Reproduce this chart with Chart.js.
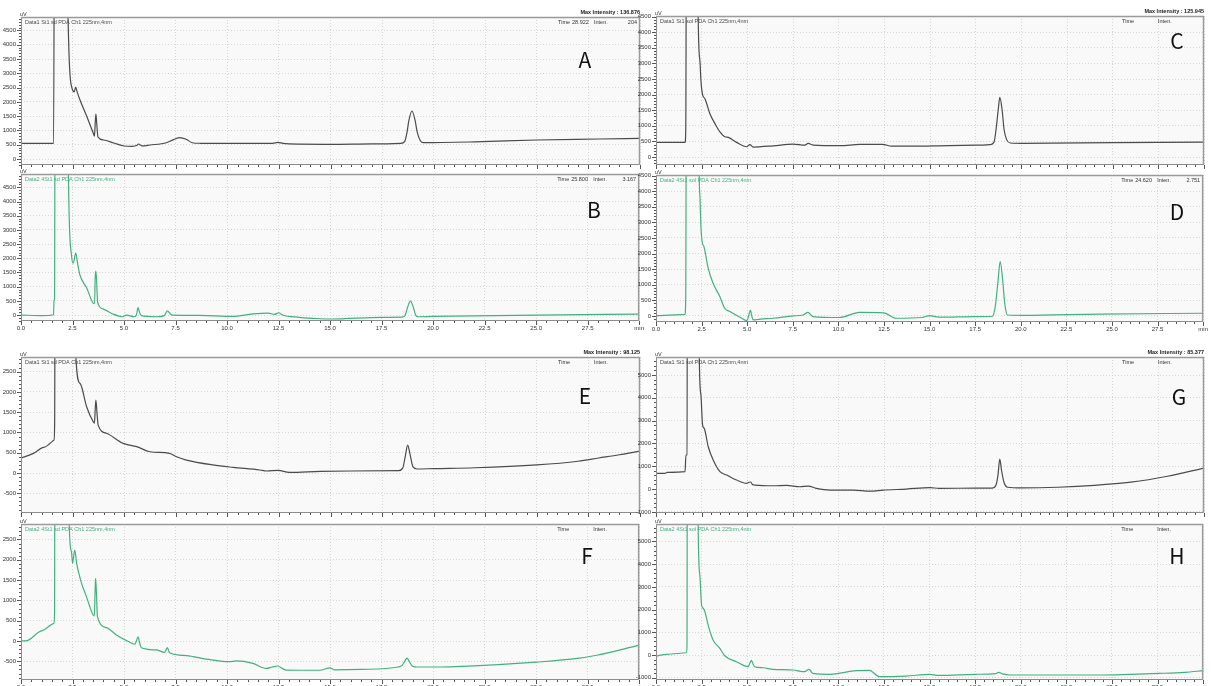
<!DOCTYPE html>
<html><head><meta charset="utf-8">
<script src="https://cdn.jsdelivr.net/npm/chart.js@4"></script>
<style>
html,body{margin:0;padding:0;background:#fff;width:1211px;height:686px;overflow:hidden;position:relative}
canvas{position:absolute}
.lbl{position:absolute;font-family:"Noto Sans CJK SC","Noto Sans",sans-serif;font-size:21px;color:#111;line-height:1;transform:translate(-50%,-50%)}
</style></head><body>
<script>
// ---- data: [time (min), intensity (uV)] ----
const traceA = [[0,545],[1.0,550],[1.58,550],[1.63,12000],[2.2,12000],[2.28,4970],[2.5,2415],[2.58,2350],[2.65,2520],[2.72,2350],[2.86,2065],[3.2,1470],[3.5,910],[3.56,800],[3.6,1300],[3.63,1575],[3.67,1250],[3.73,770],[4.0,665],[4.5,560],[5.0,455],[5.4,445],[5.6,470],[5.7,525],[5.85,460],[6.25,490],[7.05,570],[7.4,680],[7.7,745],[8.0,690],[8.3,570],[8.7,550],[10.0,545],[12.2,550],[12.45,580],[12.7,545],[13.5,520],[15.0,515],[17.0,530],[18.4,550],[18.6,620],[18.7,900],[18.8,1350],[18.95,1680],[19.1,1350],[19.2,950],[19.35,650],[19.5,570],[22,600],[25,665],[28,700],[30,725]];
const traceB = [[0,0],[1.0,-20],[1.58,10],[1.6,500],[1.63,600],[1.66,12000],[2.25,12000],[2.3,4970],[2.45,2110],[2.53,1830],[2.66,2180],[2.75,1800],[2.86,1410],[3.19,950],[3.5,420],[3.57,400],[3.6,1300],[3.63,1550],[3.67,1200],[3.72,450],[4.0,210],[4.46,35],[4.95,-60],[5.1,0],[5.5,-60],[5.6,0],[5.68,260],[5.76,80],[5.84,-20],[6.57,-60],[6.95,-20],[7.1,150],[7.25,40],[7.37,0],[8.67,-10],[10.27,-50],[11.25,40],[12.0,70],[12.3,20],[12.5,80],[12.7,0],[13.5,-80],[14.5,-130],[15.06,-140],[17.5,-80],[18.5,-75],[18.65,0],[18.75,250],[18.9,490],[19.05,250],[19.15,0],[19.25,-60],[20,-50],[25,0],[30,30]];
const traceC = [[0,468],[1.59,470],[1.63,900],[1.68,12000],[2.25,12000],[2.31,4520],[2.41,3035],[2.46,2450],[2.55,2000],[2.68,1870],[2.95,1390],[3.23,1070],[3.5,805],[3.77,650],[3.96,630],[4.41,470],[4.96,330],[5.14,400],[5.32,320],[6.42,360],[7.5,415],[8.15,380],[8.33,435],[8.6,385],[10.07,365],[11.16,405],[12.4,405],[12.9,350],[14.6,350],[15.5,360],[17.5,380],[18.3,400],[18.5,470],[18.62,900],[18.75,1600],[18.82,1910],[18.95,1500],[19.05,900],[19.2,550],[19.4,450],[20,440],[25,460],[30,480]];
const traceD = [[0,10],[1.59,50],[1.63,600],[1.68,12000],[2.3,12000],[2.37,4520],[2.41,3820],[2.46,2915],[2.53,2380],[2.63,2220],[2.86,1530],[3.13,1045],[3.5,620],[3.77,245],[4.05,140],[4.6,-40],[4.99,-150],[5.1,50],[5.18,190],[5.25,0],[5.33,-130],[5.73,-100],[6.42,-75],[7.5,0],[8.06,30],[8.33,115],[8.6,-20],[10.07,-50],[11.16,115],[12.5,100],[13.15,-75],[14.6,-50],[15.0,10],[15.5,-40],[17.5,-20],[18.45,-10],[18.6,300],[18.75,1100],[18.87,1740],[19.0,1200],[19.12,400],[19.27,30],[20.1,20],[24.3,60],[30,85]];
const traceE = [[0,370],[0.6,485],[1.1,633],[1.6,815],[1.63,1200],[1.68,12000],[2.6,12000],[2.66,2870],[2.86,2210],[3.18,1635],[3.5,1265],[3.56,1230],[3.6,1600],[3.63,1800],[3.68,1500],[3.74,1180],[4.15,980],[4.95,730],[5.6,650],[6.25,525],[7.2,485],[7.54,400],[8.02,320],[9.3,200],[10.28,140],[11.57,75],[11.9,50],[12.46,65],[13.0,15],[14.5,40],[16,50],[18.3,60],[18.5,120],[18.62,400],[18.74,690],[18.86,450],[19.0,150],[19.2,100],[20,110],[22,130],[25,200],[27,290],[28,370],[29,450],[30,540]];
const traceF = [[0,0],[0.3,10],[1.0,250],[1.6,435],[1.63,700],[1.66,12000],[2.28,12000],[2.34,2880],[2.45,2200],[2.5,1910],[2.61,2240],[2.7,1910],[2.94,1420],[3.15,1130],[3.34,845],[3.5,640],[3.56,620],[3.6,1300],[3.62,1545],[3.66,1200],[3.71,600],[4.15,330],[4.63,150],[5.28,-30],[5.52,-80],[5.6,0],[5.68,105],[5.76,-50],[5.84,-165],[6.57,-220],[6.97,-280],[7.1,-165],[7.21,-290],[8.02,-360],[9.0,-445],[10.12,-510],[10.44,-490],[11.25,-550],[11.9,-675],[12.2,-640],[12.46,-615],[12.7,-680],[12.87,-715],[14.5,-720],[15.0,-660],[15.2,-710],[16.5,-700],[18.3,-640],[18.5,-600],[18.62,-500],[18.74,-420],[18.86,-520],[19.0,-620],[19.2,-640],[20,-640],[22,-610],[25,-520],[27,-430],[28,-345],[29,-230],[30,-100]];
const traceG = [[0,690],[0.5,690],[0.6,730],[1.59,760],[1.64,1490],[1.7,1500],[1.73,20000],[2.3,20000],[2.37,5790],[2.46,4120],[2.55,2800],[2.64,2660],[2.86,1855],[3.13,1270],[3.5,760],[3.87,615],[4.41,395],[4.96,250],[5.1,300],[5.18,310],[5.28,200],[5.42,175],[6.42,145],[7.15,160],[7.88,100],[8.33,130],[8.78,30],[9.52,-45],[10.8,-45],[11.7,-90],[12.44,-45],[13.7,0],[15.0,60],[15.5,30],[17.5,40],[18.4,40],[18.6,150],[18.72,600],[18.82,1315],[18.92,800],[19.05,300],[19.25,80],[20,50],[22,80],[24,160],[26,300],[28,560],[30,920]];
const traceH = [[0,-45],[0.58,30],[1.68,100],[1.7,500],[1.73,20000],[2.25,20000],[2.31,5770],[2.41,3450],[2.5,2200],[2.59,2060],[2.68,1910],[2.86,1320],[3.13,660],[3.5,295],[3.77,-30],[4.41,-295],[5.05,-515],[5.15,-350],[5.23,-235],[5.32,-400],[5.42,-515],[5.87,-560],[6.42,-630],[7.5,-660],[8.15,-735],[8.39,-630],[8.6,-810],[9.52,-850],[10.98,-690],[11.7,-675],[12.25,-955],[13.7,-925],[15.0,-850],[15.5,-900],[17.5,-850],[18.6,-820],[18.8,-765],[19.0,-830],[19.4,-880],[22,-880],[24.3,-880],[26,-850],[27.6,-810],[29,-760],[30,-690]];

const xTickValues = [0,2.5,5,7.5,10,12.5,15,17.5,20,22.5,25,27.5,30];
const xTickLabels = ['0.0','2.5','5.0','7.5','10.0','12.5','15.0','17.5','20.0','22.5','25.0','27.5','min'];
const yTicksABCD = [0,500,1000,1500,2000,2500,3000,3500,4000,4500];
const yTicksEF = [-500,0,500,1000,1500,2000,2500];
const yTicksGH = [-1000,0,1000,2000,3000,4000,5000];
const panelLetters = ['A','B','C','D','E','F','G','H'];

const BLACK = '#4b4b4b', GREEN = '#43b07f';
const titleBlack = 'Data1 St1 sd PDA Ch1 225nm,4nm', titleGreen = 'Data2 4St1 sd PDA Ch1 225nm,4nm';
const titleBlack2 = 'Data1 St1 sol PDA Ch1 225nm,4nm', titleGreen2 = 'Data2 4St1 sol PDA Ch1 225nm,4nm';

const panels = [
 {trace:traceA,color:BLACK,L:21,T:17,R:640,B:165,yMin:-210,yMax:4970,yTicks:yTicksABCD,minor:100,xLabels:false,title:titleBlack,info:['28.922','204'],maxInt:'Max Intensity : 136.876',letter:[585,59]},
 {trace:traceB,color:GREEN,L:21,T:174,R:640,B:321,yMin:-210,yMax:4970,yTicks:yTicksABCD,minor:100,xLabels:true,title:titleGreen,info:['25.800','3.167'],maxInt:'',letter:[594,209]},
 {trace:traceC,color:BLACK,L:656,T:16,R:1204,B:165,yMin:-255,yMax:4520,yTicks:yTicksABCD,minor:100,xLabels:false,title:titleBlack2,info:['',''],maxInt:'Max Intensity : 125.945',letter:[1177,40]},
 {trace:traceD,color:GREEN,L:656,T:175,R:1204,B:322,yMin:-195,yMax:4520,yTicks:yTicksABCD,minor:100,xLabels:true,title:titleGreen2,info:['24.620','2.751'],maxInt:'',letter:[1177,211]},
 {trace:traceE,color:BLACK,L:21,T:357,R:640,B:513,yMin:-985,yMax:2860,yTicks:yTicksEF,minor:100,xLabels:false,title:titleBlack,info:['',''],maxInt:'Max Intensity : 98.125',letter:[585,395]},
 {trace:traceF,color:GREEN,L:21,T:524,R:640,B:680,yMin:-960,yMax:2880,yTicks:yTicksEF,minor:100,xLabels:true,title:titleGreen,info:['',''],maxInt:'',letter:[587,555]},
 {trace:traceG,color:BLACK,L:656,T:357,R:1204,B:513,yMin:-1050,yMax:5790,yTicks:yTicksGH,minor:200,xLabels:false,title:titleBlack2,info:['',''],maxInt:'Max Intensity : 85.377',letter:[1179,396]},
 {trace:traceH,color:GREEN,L:656,T:524,R:1204,B:680,yMin:-1100,yMax:5770,yTicks:yTicksGH,minor:200,xLabels:true,title:titleGreen2,info:['',''],maxInt:'',letter:[1177,555]}
];

const decor = {
  id:'decor',
  beforeDraw(chart, args, o){
    const {ctx, chartArea:a} = chart;
    ctx.save(); ctx.fillStyle='#f9f9f9';
    ctx.fillRect(a.left,a.top,a.right-a.left,a.bottom-a.top); ctx.restore();
  },
  afterDraw(chart, args, o){
    const {ctx, chartArea:a, scales:{x,y}} = chart;
    ctx.save();
    ctx.strokeStyle='#8c8c8c'; ctx.lineWidth=1;
    ctx.strokeRect(Math.round(a.left)+0.5, Math.round(a.top)+0.5, Math.round(a.right-a.left)-1, Math.round(a.bottom-a.top)-1);
    ctx.strokeStyle='#9a9a9a'; ctx.lineWidth=1.5;
    ctx.beginPath(); ctx.moveTo(a.left,a.top+0.5); ctx.lineTo(a.right,a.top+0.5); ctx.moveTo(a.right-0.5,a.top); ctx.lineTo(a.right-0.5,a.bottom); ctx.stroke();
    // minor tick marks
    ctx.strokeStyle='#555'; ctx.lineWidth=1; ctx.beginPath();
    for(let i=0;i<=60;i++){ const v=i*0.5; const px=Math.round(x.getPixelForValue(v))+0.5; const len=(i%5===0)?4:2; ctx.moveTo(px,a.bottom); ctx.lineTo(px,a.bottom+len); }
    const start=Math.ceil(o.yMin/o.minor)*o.minor;
    for(let v=start; v<=o.yMax; v+=o.minor){ const py=Math.round(y.getPixelForValue(v))+0.5; const len=(v%(o.minor*5)===0)?4:2; ctx.moveTo(a.left,py); ctx.lineTo(a.left-len,py); }
    ctx.stroke();
    // texts
    ctx.font='5.5px "Liberation Sans", Arial, sans-serif'; ctx.textBaseline='middle';
    ctx.fillStyle=o.color; ctx.textAlign='left';
    ctx.fillText(o.title, a.left+4, a.top+5);
    ctx.fillStyle='#333';
    ctx.fillText('uV', a.left-1, a.top-3);
    ctx.fillText('Time', a.right-82, a.top+5);
    ctx.fillText(o.info[0], a.right-68, a.top+5);
    ctx.fillText('Inten.', a.right-46, a.top+5);
    ctx.textAlign='right'; ctx.fillText(o.info[1], a.right-3, a.top+5);
    if(o.maxInt){ ctx.font='bold 5.5px "Liberation Sans", Arial, sans-serif'; ctx.fillStyle='#222'; ctx.fillText(o.maxInt, a.right, a.top-5); }
    ctx.restore();
  }
};

const AXW=26, PT=12, PR=8, XH=12;
panels.forEach((p, idx) => {
  const c=document.createElement('canvas');
  const w=p.R-p.L+AXW+PR, h=p.B-p.T+PT+XH;
  c.width=w; c.height=h;
  c.style.left=(p.L-AXW)+'px'; c.style.top=(p.T-PT)+'px';
  c.style.width=w+'px'; c.style.height=h+'px';
  document.body.appendChild(c);
  const gridOpts={color:'#d6d6d6',lineWidth:1,drawTicks:false};
  new Chart(c,{
    type:'line',
    data:{datasets:[{data:p.trace.map(([tx,ty])=>({x:tx,y:ty})),borderColor:p.color,borderWidth:1.2,pointRadius:0,cubicInterpolationMode:'monotone',fill:false}]},
    options:{
      responsive:false, animation:false, devicePixelRatio:1, events:[],
      layout:{padding:{top:PT,right:PR,left:0,bottom:0}},
      plugins:{legend:{display:false},tooltip:{enabled:false},
        decor:{color:p.color,title:p.title,info:p.info,maxInt:p.maxInt,yMin:p.yMin,yMax:p.yMax,minor:p.minor}},
      scales:{
        x:{type:'linear',min:0,max:30,
          afterFit:s=>{s.height=XH;},
          afterBuildTicks:s=>{s.ticks=xTickValues.map(v=>({value:v}));},
          ticks:{display:p.xLabels,autoSkip:false,maxRotation:0,minRotation:0,padding:4,color:'#333',font:{size:6,family:'Liberation Sans'},
            callback:(v)=>{const i=xTickValues.indexOf(v);return i>=0?xTickLabels[i]:'';}},
          grid:gridOpts, border:{display:false,dash:[1,2]}},
        y:{type:'linear',min:p.yMin,max:p.yMax,
          afterFit:s=>{s.width=AXW;},
          afterBuildTicks:s=>{s.ticks=p.yTicks.map(v=>({value:v}));},
          ticks:{autoSkip:false,padding:5,color:'#333',font:{size:6,family:'Liberation Sans'},callback:(v)=>String(v)},
          grid:gridOpts, border:{display:false,dash:[1,2]}}
      }
    },
    plugins:[decor]
  });
  const d=document.createElement('div');
  d.className='lbl'; d.textContent=panelLetters[idx];
  d.style.left=p.letter[0]+'px'; d.style.top=p.letter[1]+'px';
  document.body.appendChild(d);
});
</script>
</body></html>
